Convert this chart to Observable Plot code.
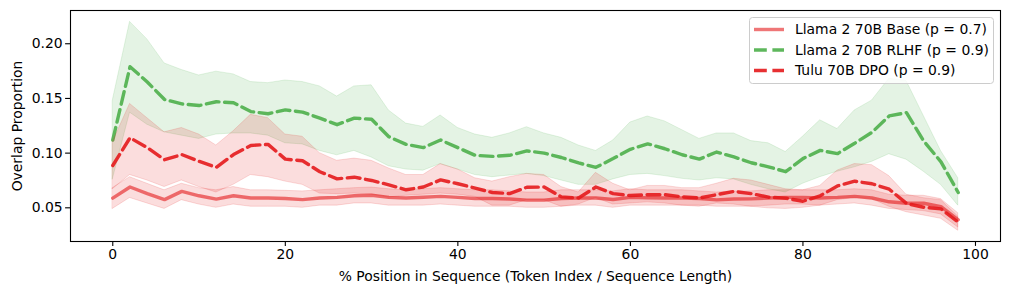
<!DOCTYPE html>
<html>
<head>
<meta charset="utf-8">
<script src="https://cdn.jsdelivr.net/npm/d3@7"></script>
<script src="https://cdn.jsdelivr.net/npm/@observablehq/plot@0.6"></script>
<style>
  html, body { margin: 0; padding: 0; background: #fff; }
  #wrap { position: relative; width: 1010px; height: 294px; font-family: "DejaVu Sans", sans-serif; }
  #legend { position: absolute; left: 749px; top: 17px; }
</style>
</head>
<body>
<div id="wrap"></div>
<script>
// x positions (% position in sequence)
const positions = [0,2,4,6,8,10,12,14,16,18,20,22,24,26,28,30,32,34,36,38,40,42,44,46,48,50,52,54,56,58,60,62,64,66,68,70,72,74,76,78,80,82,84,86,88,90,92,94,96,98];

const seriesNames = ["Llama 2 70B Base (p = 0.7)", "Llama 2 70B RLHF (p = 0.9)", "Tulu 70B DPO (p = 0.9)"];

// Llama 2 70B Base
const baseMean = [0.0588,0.069,0.063,0.0575,0.065,0.061,0.058,0.061,0.059,0.059,0.0585,0.0575,0.059,0.0595,0.061,0.0615,0.0595,0.059,0.0597,0.0605,0.0595,0.0585,0.0585,0.058,0.057,0.057,0.0585,0.059,0.059,0.0576,0.0595,0.0592,0.059,0.059,0.0585,0.0573,0.058,0.0582,0.059,0.0595,0.0595,0.059,0.0595,0.0605,0.059,0.0555,0.0542,0.0542,0.051,0.039];
const baseHi = [0.068,0.078,0.072,0.066,0.072,0.068,0.066,0.069,0.066,0.066,0.0655,0.065,0.066,0.067,0.068,0.0685,0.067,0.066,0.067,0.068,0.067,0.066,0.066,0.065,0.064,0.064,0.066,0.066,0.066,0.065,0.067,0.066,0.066,0.066,0.065,0.064,0.065,0.065,0.066,0.066,0.066,0.066,0.066,0.067,0.066,0.062,0.061,0.061,0.058,0.045];
const baseLo = [0.049,0.059,0.054,0.049,0.057,0.053,0.050,0.053,0.051,0.051,0.051,0.050,0.052,0.052,0.054,0.054,0.052,0.052,0.052,0.053,0.052,0.051,0.051,0.051,0.050,0.050,0.051,0.052,0.052,0.050,0.052,0.052,0.052,0.052,0.052,0.051,0.051,0.051,0.052,0.053,0.053,0.052,0.053,0.054,0.052,0.049,0.048,0.047,0.044,0.032];

// Llama 2 70B RLHF
const rlhfMean = [0.112,0.179,0.165,0.149,0.145,0.1435,0.147,0.146,0.138,0.136,0.1395,0.1375,0.132,0.126,0.132,0.131,0.115,0.108,0.105,0.112,0.105,0.098,0.097,0.098,0.102,0.100,0.096,0.091,0.087,0.095,0.1035,0.1085,0.104,0.0985,0.0945,0.101,0.0965,0.0912,0.0875,0.083,0.095,0.1025,0.0995,0.109,0.119,0.134,0.137,0.111,0.092,0.064];
const rlhfHi = [0.148,0.220,0.204,0.182,0.176,0.171,0.1745,0.172,0.165,0.164,0.1664,0.165,0.161,0.1517,0.161,0.162,0.139,0.127,0.124,0.1344,0.123,0.117,0.114,0.118,0.1237,0.118,0.114,0.107,0.102,0.1115,0.128,0.1335,0.129,0.121,0.113,0.118,0.118,0.111,0.109,0.101,0.115,0.130,0.122,0.139,0.148,0.168,0.166,0.134,0.102,0.077];
const rlhfLo = [0.076,0.137,0.126,0.119,0.116,0.113,0.117,0.118,0.118,0.116,0.109,0.108,0.102,0.098,0.102,0.096,0.088,0.085,0.084,0.090,0.085,0.080,0.078,0.0795,0.081,0.079,0.075,0.071,0.071,0.076,0.080,0.081,0.079,0.0765,0.075,0.077,0.076,0.071,0.067,0.064,0.072,0.078,0.083,0.087,0.092,0.099,0.094,0.083,0.071,0.052];

// Tulu 70B DPO
const dpoMean = [0.0887,0.114,0.105,0.094,0.0987,0.0925,0.087,0.0987,0.107,0.108,0.0945,0.093,0.083,0.0765,0.078,0.075,0.071,0.0665,0.069,0.0755,0.072,0.068,0.064,0.063,0.0688,0.069,0.060,0.059,0.069,0.063,0.0612,0.062,0.062,0.060,0.059,0.062,0.065,0.063,0.0597,0.0588,0.056,0.061,0.070,0.0743,0.072,0.067,0.054,0.0505,0.049,0.0368];
const dpoHi = [0.110,0.145,0.132,0.119,0.123,0.117,0.107,0.120,0.135,0.132,0.117,0.115,0.100,0.093,0.095,0.093,0.086,0.080,0.080,0.090,0.085,0.077,0.074,0.078,0.081,0.080,0.069,0.064,0.082,0.072,0.066,0.070,0.070,0.068,0.068,0.072,0.0765,0.075,0.071,0.067,0.066,0.070,0.084,0.090,0.089,0.079,0.062,0.0588,0.057,0.042];
const dpoLo = [0.067,0.080,0.075,0.069,0.075,0.069,0.064,0.071,0.080,0.078,0.074,0.071,0.063,0.0625,0.063,0.062,0.0595,0.061,0.062,0.063,0.062,0.060,0.052,0.052,0.057,0.057,0.051,0.053,0.059,0.053,0.054,0.055,0.054,0.052,0.051,0.054,0.053,0.051,0.0495,0.049,0.050,0.052,0.057,0.059,0.058,0.051,0.046,0.043,0.040,0.029];

const xTicks = [0, 20, 40, 60, 80, 100];
const yTicks = [0.05, 0.10, 0.15, 0.20];

const RED = "#e41a1c", GREEN = "#4daf4a";

function rows(mean, lo, hi) {
  return positions.map((x, i) => ({x, mean: mean[i], lo: lo[i], hi: hi[i]}));
}
const base = rows(baseMean, baseLo, baseHi);
const rlhf = rows(rlhfMean, rlhfLo, rlhfHi);
const dpo = rows(dpoMean, dpoLo, dpoHi);

function band(data, color) {
  return Plot.areaY(data, {x: "x", y1: "lo", y2: "hi", fill: color, fillOpacity: 0.15, stroke: color, strokeOpacity: 0.15, strokeWidth: 1, curve: "linear"});
}

const chart = Plot.plot({
  width: 1010,
  height: 294,
  marginLeft: 70,
  marginRight: 10,
  marginTop: 10,
  marginBottom: 53,
  style: {fontFamily: "'DejaVu Sans', sans-serif", fontSize: "13.9px", color: "black", background: "white", overflow: "visible"},
  x: {domain: [-4.9, 102.9]},
  y: {domain: [0.0192, 0.2304]},
  marks: [
    band(base, RED),
    Plot.lineY(base, {x: "x", y: "mean", stroke: RED, strokeOpacity: 0.6, strokeWidth: 3.4}),
    band(rlhf, GREEN),
    Plot.lineY(rlhf, {x: "x", y: "mean", stroke: GREEN, strokeOpacity: 0.9, strokeWidth: 3.4, strokeDasharray: "12.8,5.6"}),
    band(dpo, RED),
    Plot.lineY(dpo, {x: "x", y: "mean", stroke: RED, strokeOpacity: 0.9, strokeWidth: 3.4, strokeDasharray: "12.8,5.6"}),
    Plot.frame({stroke: "black", strokeWidth: 1.1}),
    Plot.axisX({ticks: xTicks, tickSize: 4.9, tickPadding: 3, strokeWidth: 1.1,
      label: "% Position in Sequence (Token Index / Sequence Length)", labelAnchor: "center", labelArrow: "none", labelOffset: 39}),
    Plot.axisY({ticks: yTicks, tickSize: 4.9, tickPadding: 3, strokeWidth: 1.1, tickFormat: d3.format(".2f"),
      label: "Overlap Proportion", labelAnchor: "center", labelArrow: "none", labelOffset: 58})
  ]
});

const wrap = document.getElementById("wrap");
wrap.appendChild(chart);

// Legend overlay (inside the axes, upper right)
const entries = [
  {name: seriesNames[0], color: RED, opacity: 0.6, dash: null},
  {name: seriesNames[1], color: GREEN, opacity: 0.9, dash: "12.8,5.6"},
  {name: seriesNames[2], color: RED, opacity: 0.9, dash: "12.8,5.6"}
];
const lw = 245, lh = 67;
const leg = d3.create("svg").attr("id", "legend").attr("width", lw).attr("height", lh)
  .style("font-family", "'DejaVu Sans', sans-serif").style("font-size", "13.9px");
leg.append("rect").attr("x", 0.5).attr("y", 0.5).attr("width", lw - 1).attr("height", lh - 1)
  .attr("rx", 3).attr("fill", "white").attr("fill-opacity", 0.8).attr("stroke", "#cccccc");
entries.forEach((e, i) => {
  const cy = 12.5 + i * 20.5;
  leg.append("line").attr("x1", 5).attr("x2", 35).attr("y1", cy).attr("y2", cy)
    .attr("stroke", e.color).attr("stroke-opacity", e.opacity).attr("stroke-width", 3.4)
    .attr("stroke-dasharray", e.dash);
  leg.append("text").attr("x", 46).attr("y", cy).attr("dy", "0.35em").attr("fill", "black").text(e.name);
});
wrap.appendChild(leg.node());
</script>
</body>
</html>
